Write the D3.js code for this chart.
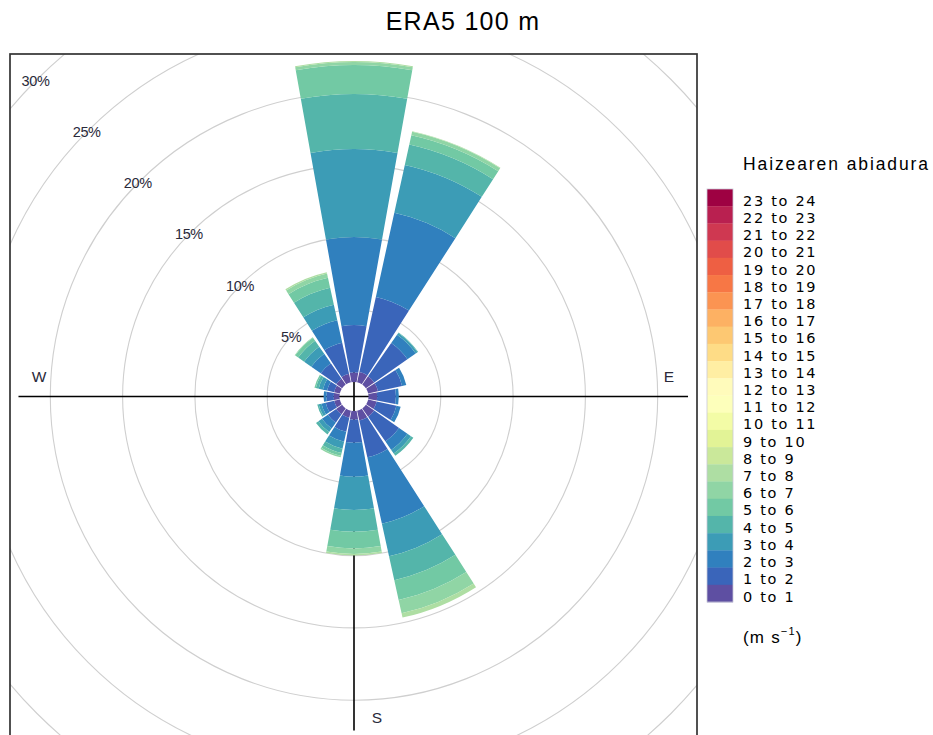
<!DOCTYPE html>
<html>
<head>
<meta charset="utf-8">
<script src="https://cdn.jsdelivr.net/npm/d3@7"></script>
<style>
  body { margin: 0; background: #fff; }
  svg { display: block; font-family: "Liberation Sans", Arial, sans-serif; }
</style>
</head>
<body>
<svg id="chart" width="933" height="735"></svg>
<script>
// Wind directions (16 sectors, 22.5° each)
const directions = ["N","NNE","NE","ENE","E","ESE","SE","SSE","S","SSW","SW","WSW","W","WNW","NW","NNW"];
const dirAngles  = [0,22.5,45,67.5,90,112.5,135,157.5,180,202.5,225,247.5,270,292.5,315,337.5];

// Frequency (% of time) per direction, one array per speed bin (m/s)
const s0_1 = [0.66,0.73,0.70,0.70,0.60,0.60,0.70,0.70,0.60,0.50,0.50,0.40,0.40,0.40,0.50,0.60];
const s1_2 = [3.28,5.32,2.80,1.70,1.30,1.40,2.10,2.60,1.60,1.00,0.70,0.60,0.50,0.50,1.30,2.20];
const s2_3 = [6.09,5.95,0.70,0.30,0.20,0.30,0.70,4.70,2.34,0.70,0.50,0.30,0.20,0.30,0.80,1.60];
const s3_4 = [6.08,3.39,0.15,0.00,0.00,0.00,0.30,2.30,2.31,0.50,0.30,0.20,0.00,0.30,0.60,1.10];
const s4_5 = [3.81,1.45,0.05,0.00,0.00,0.00,0.20,1.70,1.50,0.30,0.20,0.10,0.00,0.20,0.50,1.20];
const s5_6 = [2.00,0.66,0.00,0.00,0.00,0.00,0.00,1.40,1.15,0.20,0.00,0.00,0.00,0.10,0.25,0.70];
const s6_7 = [0.21,0.24,0.00,0.00,0.00,0.00,0.00,0.95,0.39,0.10,0.00,0.00,0.00,0.00,0.05,0.30];
const s7_8 = [0.07,0.04,0.00,0.00,0.00,0.00,0.00,0.30,0.11,0.00,0.00,0.00,0.00,0.00,0.00,0.10];
const speedSeries = [s0_1, s1_2, s2_3, s3_4, s4_5, s5_6, s6_7, s7_8];

// Legend classes
const speedLabels = ["0 to 1","1 to 2","2 to 3","3 to 4","4 to 5","5 to 6","6 to 7","7 to 8",
  "8 to 9","9 to 10","10 to 11","11 to 12","12 to 13","13 to 14","14 to 15","15 to 16",
  "16 to 17","17 to 18","18 to 19","19 to 20","20 to 21","21 to 22","22 to 23","23 to 24"];

const ringTicks = [5, 10, 15, 20, 25, 30];
const compassLabels = ["W", "E", "S"];

const titleText = "ERA5 100 m";
const legendTitle = "Haizearen abiadura";

// ---------- colour ramp: spline through Spectral, reversed ----------
const spectral = ["#9E0142","#D53E4F","#F46D43","#FDAE61","#FEE08B","#FFFFBF",
                  "#E6F598","#ABDDA4","#66C2A5","#3288BD","#5E4FA2"];

// Forsythe–Malcolm–Moler cubic spline coefficients
function fmmSpline(x, y) {
  const n = x.length;
  const b = new Array(n).fill(0), c = new Array(n).fill(0), d = new Array(n).fill(0);
  const nm1 = n - 1;
  d[0] = x[1] - x[0];
  c[1] = (y[1] - y[0]) / d[0];
  for (let i = 1; i < nm1; i++) {
    d[i] = x[i + 1] - x[i];
    b[i] = 2 * (d[i - 1] + d[i]);
    c[i + 1] = (y[i + 1] - y[i]) / d[i];
    c[i] = c[i + 1] - c[i];
  }
  b[0] = -d[0];
  b[nm1] = -d[n - 2];
  c[0] = c[nm1] = 0;
  if (n > 3) {
    c[0] = c[2] / (x[3] - x[1]) - c[1] / (x[2] - x[0]);
    c[nm1] = c[n - 2] / (x[nm1] - x[n - 3]) - c[n - 3] / (x[n - 2] - x[n - 4]);
    c[0] = c[0] * d[0] * d[0] / (x[3] - x[0]);
    c[nm1] = -c[nm1] * d[n - 2] * d[n - 2] / (x[nm1] - x[n - 4]);
  }
  for (let i = 1; i <= nm1; i++) {
    const t = d[i - 1] / b[i - 1];
    b[i] = b[i] - t * d[i - 1];
    c[i] = c[i] - t * c[i - 1];
  }
  c[nm1] = c[nm1] / b[nm1];
  for (let i = n - 2; i >= 0; i--) c[i] = (c[i] - d[i] * c[i + 1]) / b[i];
  b[nm1] = (y[nm1] - y[n - 2]) / d[n - 2] + d[n - 2] * (c[n - 2] + 2 * c[nm1]);
  for (let i = 0; i < nm1; i++) {
    b[i] = (y[i + 1] - y[i]) / d[i] - d[i] * (c[i + 1] + 2 * c[i]);
    d[i] = (c[i + 1] - c[i]) / d[i];
    c[i] = 3 * c[i];
  }
  c[nm1] = 3 * c[nm1];
  d[nm1] = d[n - 2];
  return t => {
    let i = Math.min(Math.floor(t), n - 2);
    i = Math.max(i, 0);
    const dx = t - x[i];
    return y[i] + dx * (b[i] + dx * (c[i] + dx * d[i]));
  };
}

function splineRamp(hexes, n) {
  const rgb = hexes.map(h => d3.rgb(h));
  const xs = hexes.map((_, i) => i);
  const fr = fmmSpline(xs, rgb.map(c => c.r));
  const fg = fmmSpline(xs, rgb.map(c => c.g));
  const fb = fmmSpline(xs, rgb.map(c => c.b));
  const clamp = v => Math.round(Math.max(0, Math.min(255, v)));
  return d3.range(n).map(i => {
    const t = i * (hexes.length - 1) / (n - 1);
    return d3.rgb(clamp(fr(t)), clamp(fg(t)), clamp(fb(t))).formatHex();
  });
}
const colors = splineRamp(spectral, speedLabels.length).reverse();

// ---------- layout ----------
const svg = d3.select("#chart");
const cx = 354, cy = 396.5;
const panel = {x: 10, y: 54, w: 687, h: 687};
const hole = 14.5;
const pxPerPct = 14.46;

const r = d3.scaleLinear().domain([0, 30]).range([hole, hole + 30 * pxPerPct]);

// title
svg.append("text")
  .attr("x", 463).attr("y", 30)
  .attr("text-anchor", "middle")
  .attr("font-size", 25)
  .attr("letter-spacing", 1.3)
  .attr("fill", "#000")
  .text(titleText);

// plot panel, clipped
svg.append("clipPath").attr("id", "panelClip")
  .append("rect").attr("x", panel.x).attr("y", panel.y).attr("width", panel.w).attr("height", panel.h);

const plot = svg.append("g").attr("clip-path", "url(#panelClip)");
const g = plot.append("g").attr("transform", `translate(${cx},${cy})`);

// grid rings
g.selectAll("circle.ring")
  .data(ringTicks)
  .join("circle")
  .attr("class", "ring")
  .attr("r", d => r(d))
  .attr("fill", "none")
  .attr("stroke", "#cfcfcf")
  .attr("stroke-width", 1.1);

// cumulative totals
const totals = directions.map((_, i) => d3.sum(speedSeries, s => s[i]));
const axisLen = r(d3.max(totals)) - 1.5;

// axis cross
g.append("line").attr("x1", -axisLen - 1.5).attr("x2", axisLen).attr("y1", 0).attr("y2", 0)
  .attr("stroke", "#000").attr("stroke-width", 1.6);
g.append("line").attr("x1", 0).attr("x2", 0).attr("y1", -axisLen).attr("y2", axisLen)
  .attr("stroke", "#000").attr("stroke-width", 1.6);

// compass labels
const compassPos = {
  W: [-axisLen + 19, -15],
  E: [axisLen - 19, -15],
  S: [23, axisLen - 8]
};
compassLabels.forEach(t => {
  g.append("text")
    .attr("x", compassPos[t][0]).attr("y", compassPos[t][1])
    .attr("text-anchor", "middle")
    .attr("font-size", 15.5).attr("fill", "#2a2a3a").text(t);
});

// stacked sectors
const halfWidth = 22.5 * 0.9 / 2 * Math.PI / 180;
const arc = d3.arc();
const segs = [];
directions.forEach((d, i) => {
  let cum = 0;
  speedSeries.forEach((s, k) => {
    const v = s[i];
    if (v > 0) {
      segs.push({dir: i, k, lo: cum, hi: cum + v});
      cum += v;
    }
  });
});
g.selectAll("path.seg")
  .data(segs)
  .join("path")
  .attr("class", "seg")
  .attr("d", d => {
    const a = dirAngles[d.dir] * Math.PI / 180;
    return arc({innerRadius: r(d.lo), outerRadius: r(d.hi), startAngle: a - halfWidth, endAngle: a + halfWidth});
  })
  .attr("fill", d => colors[d.k]);

// ring labels along 315°
const la = -45 * Math.PI / 180;
g.selectAll("text.ringlab")
  .data(ringTicks)
  .join("text")
  .attr("class", "ringlab")
  .attr("x", d => r(d) * Math.sin(la) - 1.5)
  .attr("y", d => -r(d) * Math.cos(la) + 6.5)
  .attr("text-anchor", "middle")
  .attr("font-size", 14.5)
  .attr("letter-spacing", -0.4)
  .attr("fill", "#2a2a3a")
  .text(d => d + "%");

// panel border
svg.append("rect")
  .attr("x", panel.x).attr("y", panel.y).attr("width", panel.w).attr("height", panel.h)
  .attr("fill", "none").attr("stroke", "#333").attr("stroke-width", 1.7);

// ---------- legend ----------
const leg = {x: 707, y: 189, w: 26, h: 413};
const cellH = leg.h / speedLabels.length;
const legend = svg.append("g");

legend.append("text")
  .attr("x", 743).attr("y", 169.5)
  .attr("font-size", 17.5)
  .attr("letter-spacing", 1.9)
  .attr("fill", "#000")
  .text(legendTitle);

const rows = speedLabels.map((lab, i) => ({lab, i})).reverse();
legend.selectAll("rect.cell")
  .data(rows)
  .join("rect")
  .attr("class", "cell")
  .attr("x", leg.x)
  .attr("y", (d, j) => leg.y + j * cellH)
  .attr("width", leg.w)
  .attr("height", cellH + 0.3)
  .attr("fill", d => colors[d.i]);

legend.append("rect")
  .attr("x", leg.x).attr("y", leg.y).attr("width", leg.w).attr("height", leg.h)
  .attr("fill", "none").attr("stroke", "#c8c8d8").attr("stroke-width", 0.8);

legend.selectAll("text.lab")
  .data(rows)
  .join("text")
  .attr("class", "lab")
  .attr("x", 743)
  .attr("y", (d, j) => leg.y + (j + 1) * cellH - 0.5)
  .attr("font-family", "'DejaVu Sans', sans-serif")
  .attr("font-size", 14.5)
  .attr("letter-spacing", 1.7)
  .attr("fill", "#000")
  .text(d => d.lab);

const unit = legend.append("text")
  .attr("x", 743).attr("y", 643)
  .attr("font-size", 17)
  .attr("letter-spacing", 1.2)
  .attr("fill", "#000");
unit.append("tspan").text("(m s");
unit.append("tspan").attr("font-size", 11).attr("dy", -8).text("\u22121");
unit.append("tspan").attr("dy", 8).text(")");
</script>
</body>
</html>
